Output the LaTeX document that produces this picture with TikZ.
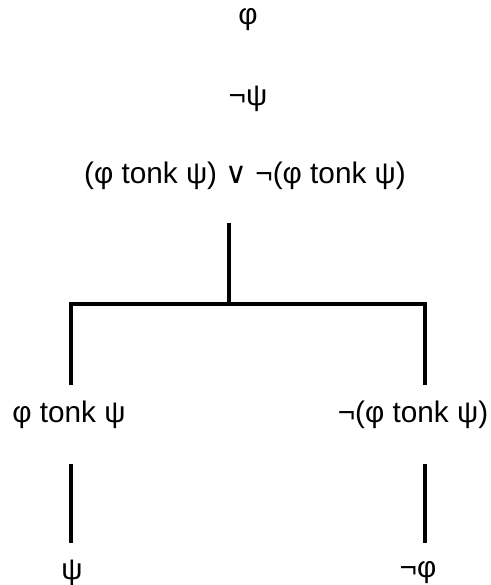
\documentclass[tikz,border=0pt]{standalone}
\usepackage{fontspec}
\setmainfont{Liberation Sans}
\newfontfamily\dvfont{DejaVu Sans}
\begin{document}
\begin{tikzpicture}[x=0.75pt,y=-0.75pt,
  txt/.style={inner sep=0pt,font=\fontsize{22.3}{24}\selectfont},
  edge/.style={line width=2.7pt,line join=miter,line cap=butt}]
\useasboundingbox (0,0) rectangle (490,585);
\node[txt] (phi) at (248,20) {φ};
\node[txt] (npsi) at (248,99) {¬ψ};
\node[txt] (disj) at (245,176) {(φ tonk ψ) {\dvfont ∨} ¬(φ tonk ψ)};
\node[txt] (left) at (69,415) {φ tonk ψ};
\node[txt] (right) at (413,415) {¬(φ tonk ψ)};
\node[txt] (psi) at (72,573) {ψ};
\node[txt] (nphi) at (418,573) {¬φ};
\coordinate (top) at (229,223);
\coordinate (branch) at (229,304);
\coordinate (lb) at (71,304);
\coordinate (rb) at (425,304);
\coordinate (lt) at (71,385);
\coordinate (rt) at (425,385);
\coordinate (l2t) at (71,464);
\coordinate (l2b) at (71,543);
\coordinate (r2t) at (425,464);
\coordinate (r2b) at (425,543);
\draw[edge] (top) -- (branch);
\draw[edge] (lt) -- (lb) -- (rb) -- (rt);
\draw[edge] (l2t) -- (l2b);
\draw[edge] (r2t) -- (r2b);
\end{tikzpicture}
\end{document}
